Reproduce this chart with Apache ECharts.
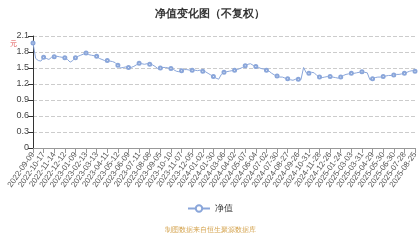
<!DOCTYPE html>
<html><head><meta charset="utf-8">
<script src="https://cdn.jsdelivr.net/npm/echarts@6/dist/echarts.min.js"></script>
<style>html,body{margin:0;padding:0;background:#fff}#c{width:420px;height:240px}</style>
</head><body><div id="c"></div>
<script>
// Tick-label dates (every 20 trading days)
const tickLabels = ['2022-09-09','2022-10-17','2022-11-14','2022-12-12','2023-01-09','2023-02-13','2023-03-13','2023-04-11','2023-05-12','2023-06-09','2023-07-11','2023-08-08','2023-09-05','2023-10-10','2023-11-07','2023-12-05','2024-01-02','2024-01-30','2024-03-06','2024-04-02','2024-05-07','2024-06-04','2024-07-02','2024-07-30','2024-08-27','2024-09-26','2024-10-31','2024-11-28','2024-12-26','2025-01-24','2025-03-03','2025-03-31','2025-04-29','2025-05-30','2025-06-30','2025-07-28','2025-08-25'];
// Net value, sampled about every 5 trading days (4 samples per tick interval)
const navValues = [
1.97,1.68,1.64,1.63,1.70,1.68,1.66,1.70,1.71,1.72,
1.71,1.70,1.69,1.66,1.61,1.64,1.69,1.72,1.74,1.76,
1.78,1.75,1.74,1.73,1.72,1.68,1.66,1.64,1.64,1.63,
1.62,1.60,1.55,1.50,1.51,1.52,1.51,1.51,1.53,1.56,
1.59,1.58,1.57,1.58,1.57,1.56,1.53,1.49,1.50,1.51,
1.51,1.50,1.49,1.47,1.44,1.43,1.45,1.47,1.47,1.46,
1.46,1.46,1.45,1.46,1.44,1.43,1.40,1.37,1.34,1.31,
1.29,1.38,1.42,1.43,1.44,1.45,1.46,1.47,1.49,1.51,
1.54,1.57,1.58,1.55,1.53,1.51,1.49,1.48,1.46,1.44,
1.40,1.37,1.35,1.33,1.33,1.31,1.30,1.28,1.27,1.29,
1.29,1.28,1.51,1.41,1.40,1.42,1.41,1.36,1.33,1.32,
1.33,1.34,1.34,1.33,1.32,1.31,1.33,1.36,1.38,1.39,
1.40,1.40,1.41,1.42,1.43,1.42,1.41,1.28,1.30,1.32,
1.33,1.33,1.34,1.35,1.36,1.36,1.37,1.38,1.38,1.39,
1.40,1.42,1.44,1.45,1.44];
const yTicks = [0,0.3,0.6,0.9,1.2,1.5,1.8,2.1];

// build category list: tick label dates at every 4th sample, weekly dates between
function addDays(s,n){const d=new Date(s+'T00:00:00Z');d.setUTCDate(d.getUTCDate()+n);return d.toISOString().slice(0,10);}
const categories=[];
tickLabels.forEach((t,k)=>{categories.push(t);if(k<tickLabels.length-1){for(let j=1;j<4;j++)categories.push(addDays(t,7*j));}});

const chart=echarts.init(document.getElementById('c'));
chart.setOption({
  animation:false,
  title:[{text:'净值变化图（不复权）',left:'center',top:3,textStyle:{fontSize:11,fontWeight:'bold',color:'#333'}},
         {text:'制图数据来自恒生聚源数据库',left:'center',bottom:1,textStyle:{fontSize:7,fontWeight:'normal',color:'#d4a24c'}}],
  legend:{bottom:22,itemWidth:22,itemHeight:8,textStyle:{fontSize:9,color:'#333'},data:['净值']},
  grid:{left:33,right:0,top:36,bottom:92},
  xAxis:{type:'category',data:categories,boundaryGap:false,
    axisLine:{lineStyle:{color:'#999'}},
    axisTick:{interval:3,lineStyle:{color:'#999'}},
    axisLabel:{interval:3,rotate:55,fontSize:8,color:'#555',margin:5}},
  yAxis:{type:'value',min:0,max:2.1,interval:0.3,
    name:'元',nameLocation:'end',nameGap:-14,nameTextStyle:{color:'#e05050',fontSize:7,padding:[0,0,0,-40]},
    axisLine:{show:true,lineStyle:{color:'#333'}},axisTick:{show:true,lineStyle:{color:'#333'}},
    axisLabel:{fontSize:9,color:'#444',margin:4,formatter:v=>String(Math.round(v*10)/10)},
    splitLine:{lineStyle:{type:'dashed',color:'#ccc'}}},
  series:[{name:'净值',type:'line',data:navValues,symbol:'emptyCircle',symbolSize:3,
    lineStyle:{width:1,color:'#8aa6da'},itemStyle:{color:'#8aa6da',borderWidth:0.8}}]
});
</script></body></html>
